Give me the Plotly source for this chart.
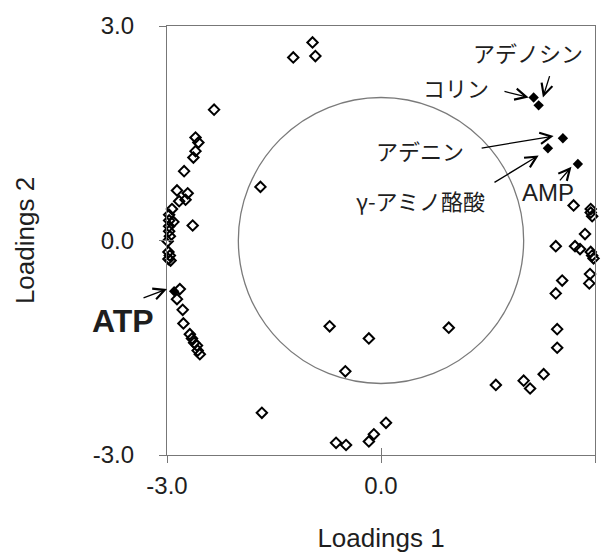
import plotly.graph_objects as go

# Loadings of all variables (open diamonds)
loading1 = [-0.96, -1.23, -0.92, -2.34, -1.69,
            -2.60, -2.56, -2.60, -2.63, -2.76, -2.86, -2.71, -2.83, -2.74,
            -2.93, -2.97, -2.91, -2.97, -2.64, -2.97, -2.97, -2.96, -2.99,
            -2.98, -2.96, -2.98, -2.95,
            -2.82, -2.86, -2.78, -2.77, -2.68, -2.65, -2.62, -2.58, -2.57, -2.54,
            2.70, 2.94, 2.94, 2.96, 2.86, 2.45, 2.72, 2.79, 2.94, 2.96, 2.98,
            2.93, 2.92, 2.54, 2.45,
            2.47, 2.47, 2.28, 1.61, 2.00, 2.09,
            -0.72, -0.17, 0.95, -0.50, 0.07, -0.10, -0.17, -0.63, -0.49, -1.67]
loading2 = [2.77, 2.56, 2.58, 1.83, 0.75,
            1.44, 1.37, 1.25, 1.16, 0.97, 0.70, 0.66, 0.55, 0.57,
            0.44, 0.36, 0.26, 0.28, 0.21, 0.20, 0.13, 0.06, -0.01,
            -0.16, -0.21, -0.26, -0.28,
            -0.68, -0.82, -0.97, -1.16, -1.31, -1.37, -1.43, -1.47, -1.54, -1.59,
            0.49, 0.44, 0.39, 0.34, 0.09, -0.08, -0.08, -0.12, -0.16, -0.21, -0.25,
            -0.47, -0.60, -0.56, -0.74,
            -1.24, -1.50, -1.87, -2.02, -1.96, -2.07,
            -1.20, -1.37, -1.22, -1.83, -2.55, -2.71, -2.81, -2.83, -2.86, -2.41]

# Highlighted metabolites (filled diamonds)
named = ["コリン", "アデノシン", "アデニン", "γ-アミノ酪酸", "AMP", "ATP"]
named_l1 = [2.14, 2.21, 2.55, 2.34, 2.76, -2.90]
named_l2 = [2.00, 1.89, 1.43, 1.29, 1.07, -0.71]

# Label centre, arrow tail and arrow tip for each highlighted metabolite
label_x = [1.05, 2.06, 0.55, 0.55, 2.34, -3.0]
label_y = [2.14, 2.63, 1.26, 0.57, 0.67, -1.125]
tail_x = [1.71, 2.37, 1.39, 1.57, 2.49, -3.35]
tail_y = [2.09, 2.32, 1.29, 0.80, 0.82, -0.81]
tip_x = [2.07, 2.27, 2.42, 2.21, 2.67, -3.00]
tip_y = [2.00, 2.00, 1.46, 1.19, 1.03, -0.68]

circle_radius = 2.0
tick_vals = [-3.0, 0.0, 3.0]
tick_text = ["-3.0", "0.0", "3.0"]
axis_range = [-3.0, 3.0]

AXIS_GREY = "#777777"
TEXT = "#1e1e1e"
FONT = "Liberation Sans, Arial, sans-serif"
JP_FONT = "Noto Sans CJK JP, sans-serif"

fig = go.Figure()

fig.add_trace(go.Scatter(
    x=loading1, y=loading2, mode="markers", cliponaxis=False,
    marker=dict(symbol="diamond-open", size=8, color="black",
                line=dict(width=2, color="black")),
    showlegend=False, hoverinfo="skip"))

fig.add_trace(go.Scatter(
    x=named_l1, y=named_l2, mode="markers", cliponaxis=False,
    marker=dict(symbol="diamond", size=8, color="black"),
    showlegend=False, hoverinfo="skip"))

# invisible trace so the overlay axes (inner halves of the ticks) get drawn
fig.add_trace(go.Scatter(x=[0], y=[0], xaxis="x2", yaxis="y2", mode="markers",
                         marker=dict(opacity=0), showlegend=False, hoverinfo="skip"))

fig.add_shape(type="circle", xref="x", yref="y",
              x0=-circle_radius, y0=-circle_radius, x1=circle_radius, y1=circle_radius,
              line=dict(color="#7a7a7a", width=1.3), layer="below")

for i, name in enumerate(named):
    # arrow from the label towards its point
    fig.add_annotation(x=tip_x[i], y=tip_y[i], ax=tail_x[i], ay=tail_y[i],
                       xref="x", yref="y", axref="x", ayref="y", text="",
                       showarrow=True, arrowhead=5, arrowsize=1.7,
                       arrowwidth=1.3, arrowcolor="black")
    if name == "ATP":
        fig.add_annotation(x=label_x[i], y=label_y[i], xref="x", yref="y",
                           text="<b>ATP</b>", showarrow=False, xanchor="right",
                           xshift=-11, font=dict(family=FONT, size=32, color=TEXT))
    else:
        fam = FONT if name == "AMP" else JP_FONT
        size = 24 if name == "AMP" else 22
        fig.add_annotation(x=label_x[i], y=label_y[i], xref="x", yref="y",
                           text=name, showarrow=False,
                           font=dict(family=fam, size=size, color=TEXT))

axis_common = dict(range=axis_range, tickvals=tick_vals, showgrid=False,
                   zeroline=False, linecolor=AXIS_GREY, tickcolor=AXIS_GREY,
                   ticklen=7, tickwidth=1)

fig.update_layout(
    width=610, height=559,
    margin=dict(l=167, r=15, t=25, b=102),
    paper_bgcolor="white", plot_bgcolor="white",
    font=dict(family=FONT, color=TEXT),
    xaxis=dict(**axis_common, ticktext=tick_text, ticks="outside", showline=True,
               linewidth=1.2, mirror=True,
               tickfont=dict(family=FONT, size=24, color=TEXT),
               ticklabelstandoff=2,
               title=dict(text="Loadings 1", standoff=30,
                          font=dict(family=FONT, size=26, color=TEXT))),
    yaxis=dict(**axis_common, ticktext=tick_text, ticks="outside", showline=True,
               linewidth=1.2, mirror=True,
               tickfont=dict(family=FONT, size=24, color=TEXT),
               ticklabelstandoff=20,
               title=dict(text="Loadings 2", standoff=50,
                          font=dict(family=FONT, size=26, color=TEXT))),
    xaxis2=dict(**axis_common, ticks="inside", showline=False, overlaying="x",
                anchor="y", showticklabels=False),
    yaxis2=dict(**axis_common, ticks="inside", showline=False, overlaying="y",
                anchor="x", showticklabels=False),
)

fig.write_html("out.html")
